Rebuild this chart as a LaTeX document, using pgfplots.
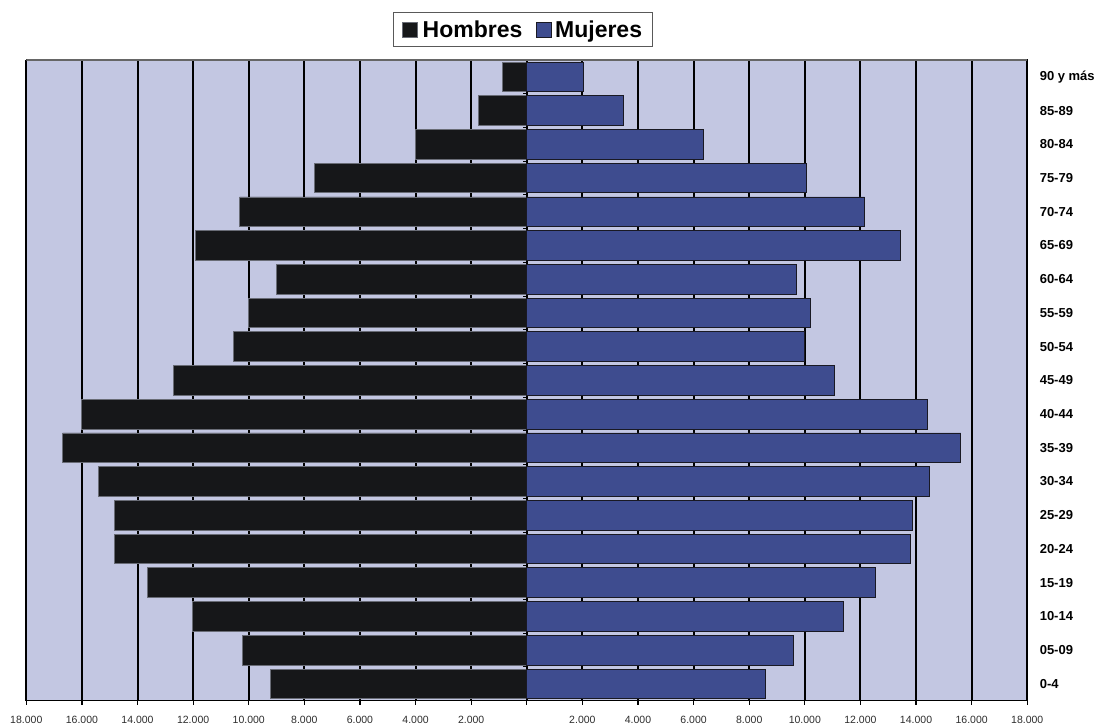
\documentclass[border=0pt]{standalone}
\usepackage{fontspec}
\setmainfont{Liberation Sans}
\usepackage{pgfplots}
\usepackage{pgfplotstable}
\pgfplotsset{compat=1.18}
\definecolor{bg}{RGB}{195,199,226}
\definecolor{men}{RGB}{22,23,25}
\definecolor{menedge}{RGB}{105,108,118}
\definecolor{women}{RGB}{62,76,143}
\definecolor{womenedge}{RGB}{25,25,35}
\definecolor{ticktext}{RGB}{45,45,45}

\pgfplotstableread{
y  men     women
0  -9230   8600
1  -10230  9600
2  -12030  11370
3  -13650  12540
4  -14830  13780
5  -14830  13870
6  -15400  14490
7  -16690  15610
8  -16020  14400
9  -12710  11050
10 -10540  9990
11 -10010  10210
12 -9010   9690
13 -11930  13440
14 -10330  12150
15 -7640   10070
16 -4010   6340
17 -1730   3490
18 -860    2050
}\pyramid

\begin{document}
\begin{tikzpicture}
\begin{axis}[
  at={(0,0)}, anchor=south west,
  scale only axis, width=1001bp, height=640.7bp,
  xmin=-18000, xmax=18000, ymin=-0.5, ymax=18.5,
  axis background/.style={fill=bg},
  axis line style={black, line width=1.4bp},
  xbar, bar width=0.88, bar shift=0pt,
  scaled x ticks=false,
  xtick={-18000,-16000,...,18000},
  xticklabels={18.000,16.000,14.000,12.000,10.000,8.000,6.000,4.000,2.000,,2.000,4.000,6.000,8.000,10.000,12.000,14.000,16.000,18.000},
  xtick pos=left,
  tick align=outside,
  major tick length=4bp,
  x tick style={black, line width=1.2bp},
  xmajorgrids, grid style={black, line width=2bp},
  xticklabel style={font=\fontsize{10.5bp}{12bp}\selectfont, text=ticktext, yshift=-8bp},
  ytick={0,...,18},
  yticklabels={0-4,05-09,10-14,15-19,20-24,25-29,30-34,35-39,40-44,45-49,50-54,55-59,60-64,65-69,70-74,75-79,80-84,85-89,90 y más},
  ytick pos=right, yticklabel pos=right,
  y tick style={draw=none},
  yticklabel style={font=\bfseries\fontsize{13bp}{15bp}\selectfont, anchor=west, xshift=5bp},
  legend image code/.code={\draw[#1] (0bp,-7.5bp) rectangle (15bp,7.5bp);},
  legend style={at={(axis description cs:0.4962,1.0476)}, anchor=center,
    draw=black!65, line width=1bp,
    font=\bfseries\fontsize{23bp}{25bp}\selectfont,
    inner xsep=8bp, inner ysep=6bp,
    /tikz/every even column/.append style={column sep=12bp}},
  legend columns=2,
]
\addplot[fill=men, draw=menedge, line width=0.8bp]
  table[x=men, y=y] {\pyramid};
\addlegendentry{\hspace{3bp}Hombres}
\addplot[fill=women, draw=womenedge, line width=0.8bp]
  table[x=women, y=y] {\pyramid};
\addlegendentry{\hspace{1bp}Mujeres\hspace{8bp}}
\pgfplotsinvokeforeach{0.5,1.5,...,17.5}{\draw[black, line width=1bp] (axis cs:0,#1) -- (axis cs:-150,#1);}
\draw[black!60, line width=1.6bp] (rel axis cs:0,1) -- (rel axis cs:1,1);
\end{axis}
\pgfresetboundingbox
\path (-26.3bp,-27.3bp) rectangle (1070.7bp,700.7bp);
\end{tikzpicture}
\end{document}
